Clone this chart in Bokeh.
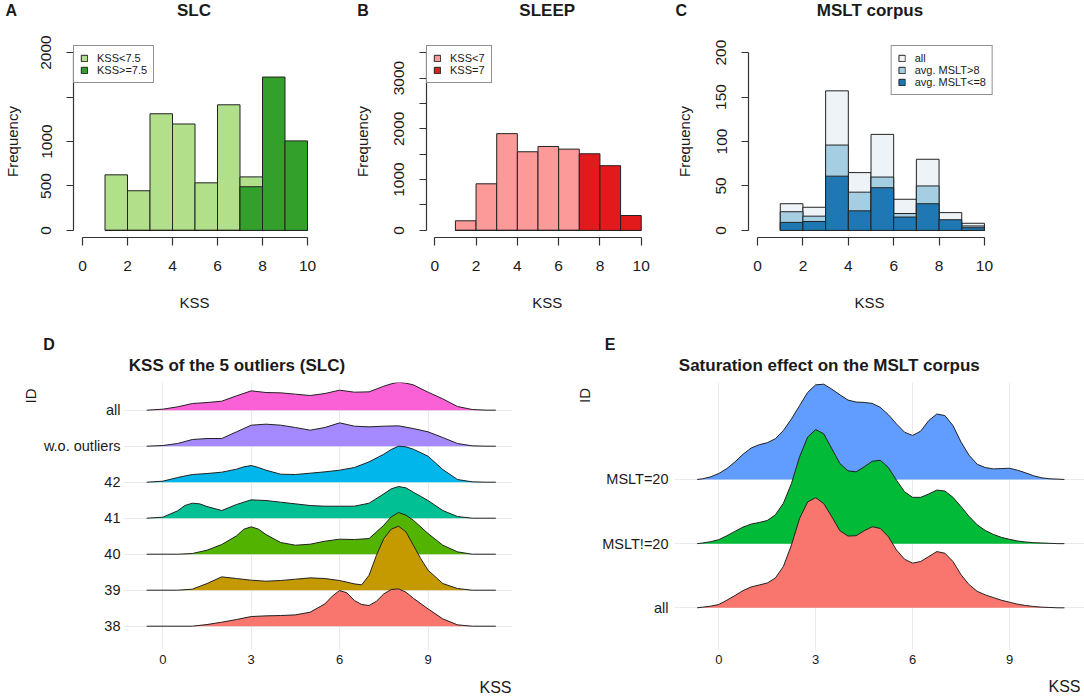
import math
from bokeh.plotting import figure
from bokeh.models import Range1d, FixedTicker, Legend, LegendItem
from bokeh.core.properties import value
from bokeh.layouts import row, column
from bokeh.embed import file_html
from bokeh.resources import INLINE

# ---------------- data : histograms (A, B, C) ----------------
bin_left = [1, 2, 3, 4, 5, 6, 7, 8, 9]            # KSS bins of width 1
slc_low = [625, 446, 1312, 1197, 535, 1413, 602, 0, 0]          # KSS<7.5
slc_high = [0, 0, 0, 0, 0, 0, 491, 1725, 1007]                  # KSS>=7.5
sleep_low = [189, 917, 1905, 1548, 1652, 1600, 0, 0, 0]         # KSS<7
sleep_high = [0, 0, 0, 0, 0, 0, 1508, 1274, 293]                # KSS=7
mslt_all = [30, 26, 157, 65, 108, 35, 80, 20, 8]                # all
mslt_gt8 = [21, 16, 96, 43, 60, 19, 50, 8, 5]                   # avg. MSLT>8
mslt_le8 = [9, 10, 61, 22, 48, 15, 30, 12, 3]                   # avg. MSLT<=8

hist_x_ticks = [0, 2, 4, 6, 8, 10]
slc_y_ticks = [0, 500, 1000, 1500, 2000]
slc_y_labels = ["0", "500", "1000", "", "2000"]
sleep_y_ticks = [0, 500, 1000, 1500, 2000, 2500, 3000, 3500]
sleep_y_labels = ["0", "", "1000", "", "2000", "", "3000", ""]
mslt_y_ticks = [0, 50, 100, 150, 200]
mslt_y_labels = ["0", "50", "100", "150", "200"]

# ---------------- data : ridgelines (D) ----------------
# heights; one row spacing = 108 units
ridge_d_scale = 108
d_ids = ["38", "39", "40", "41", "42", "w.o. outliers", "all"]
d_all_x = [-0.55, 0, 0.5, 1, 1.5, 2, 2.5, 3, 3.5, 4, 4.5, 5, 5.5, 6, 6.5, 7, 7.5, 7.75, 8, 8.25, 8.5, 9, 9.5, 10, 10.5, 11, 11.3]
d_all_h = [0, 3, 10, 20, 23, 27, 43, 58, 53, 52, 48, 44, 50, 60, 54, 55, 72, 79, 84, 81, 76, 54, 34, 11, 2, 0, 0]
d_wo_x = [-0.55, 0, 0.5, 1, 1.5, 2, 2.5, 3, 3.5, 4, 4.5, 5, 5.5, 6, 6.5, 7, 7.5, 8, 8.5, 9, 9.5, 10, 10.5, 11, 11.3]
d_wo_h = [0, 2, 8, 20, 23, 23, 43, 63, 66, 63, 56, 48, 56, 70, 60, 58, 60, 61, 53, 43, 26, 8, 1, 0, 0]
d_42_x = [-0.55, 0, 0.5, 1, 1.5, 2, 2.5, 2.75, 3, 3.25, 3.5, 4, 4.5, 5, 5.5, 6, 6.5, 7, 7.5, 7.75, 8, 8.25, 8.5, 9, 9.5, 10, 10.5, 11, 11.3]
d_42_h = [0, 3, 14, 23, 26, 30, 39, 46, 50, 44, 36, 24, 23, 27, 31, 36, 44, 61, 84, 98, 108, 106, 99, 78, 38, 8, 1, 0, 0]
d_41_x = [-0.55, 0, 0.5, 0.75, 1, 1.25, 1.5, 2, 2.5, 3, 3.5, 4, 4.5, 5, 5.5, 6, 6.5, 7, 7.5, 7.75, 8, 8.25, 8.5, 9, 9.5, 10, 10.5, 11, 11.3]
d_41_h = [0, 3, 22, 38, 45, 43, 35, 23, 41, 55, 53, 48, 43, 38, 36, 36, 36, 45, 73, 88, 95, 91, 78, 53, 23, 5, 0, 0, 0]
d_40_x = [-0.55, 0.5, 1, 1.5, 2, 2.5, 2.75, 3, 3.25, 3.5, 4, 4.5, 5, 5.5, 6, 6.5, 7, 7.5, 7.75, 8, 8.25, 8.5, 9, 9.5, 10, 10.5, 11.3]
d_40_h = [0, 0, 2, 12, 29, 55, 75, 82, 75, 59, 35, 27, 30, 39, 45, 44, 47, 87, 112, 125, 117, 102, 62, 27, 7, 0, 0]
d_39_x = [-0.55, 0.5, 1, 1.5, 2, 2.5, 3, 3.5, 4, 4.5, 5, 5.5, 6, 6.5, 6.75, 7, 7.25, 7.5, 7.75, 8, 8.25, 8.5, 8.75, 9, 9.5, 10, 10.5, 11.3]
d_39_h = [0, 0, 3, 20, 40, 35, 30, 27, 29, 33, 37, 35, 29, 19, 16, 45, 105, 155, 183, 192, 175, 135, 95, 60, 20, 5, 0, 0]
d_38_x = [-0.55, 1, 1.5, 2, 2.5, 3, 3.5, 4, 4.5, 5, 5.5, 5.75, 6, 6.25, 6.5, 6.75, 7, 7.25, 7.5, 7.75, 8, 8.25, 8.5, 9, 9.5, 10, 10.5, 11.3]
d_38_h = [0, 0, 5, 12, 20, 29, 31, 32, 34, 42, 67, 90, 107, 100, 77, 65, 62, 75, 97, 110, 112, 102, 84, 52, 22, 4, 0, 0]
d_series = [(d_38_x, d_38_h), (d_39_x, d_39_h), (d_40_x, d_40_h), (d_41_x, d_41_h),
            (d_42_x, d_42_h), (d_wo_x, d_wo_h), (d_all_x, d_all_h)]
d_colors = ["#F8766D", "#C49A00", "#53B400", "#00C094", "#00B6EB", "#A58AFF", "#FB61D7"]

# ---------------- data : ridgelines (E) ----------------
ridge_e_scale = 194
e_ids = ["all", "MSLT!=20", "MSLT=20"]
e_x = [-0.67, -0.5, -0.25, 0, 0.25, 0.5, 0.75, 1, 1.25, 1.5, 1.75, 2, 2.25, 2.5, 2.75, 3, 3.25,
       3.5, 3.75, 4, 4.25, 4.5, 4.75, 5, 5.25, 5.5, 5.75, 6, 6.25, 6.5, 6.75, 7, 7.25, 7.5, 7.75,
       8, 8.25, 8.5, 8.75, 9, 9.25, 9.5, 9.75, 10, 10.25, 10.5, 10.7]
e_mslt20 = [0, 2, 8, 18, 33, 53, 76, 95, 105, 111, 123, 148, 183, 223, 263, 286, 288,
            273, 256, 240, 234, 233, 230, 218, 196, 168, 143, 133, 146, 178, 198, 193, 163, 113, 73,
            46, 36, 32, 33, 34, 28, 20, 11, 5, 2, 1, 0]
e_not20 = [0, 2, 6, 12, 24, 37, 50, 59, 64, 70, 87, 122, 182, 262, 322, 345, 332,
           287, 242, 220, 217, 232, 249, 252, 230, 192, 157, 140, 140, 150, 162, 159, 140, 112, 82,
           57, 40, 28, 19, 13, 8, 5, 3, 2, 1, 0, 0]
e_all = [0, 2, 5, 10, 23, 37, 52, 63, 69, 75, 90, 125, 190, 270, 320, 333, 315,
         275, 233, 217, 218, 233, 245, 240, 215, 175, 147, 135, 140, 155, 170, 165, 140, 100, 70,
         50, 39, 31, 23, 17, 11, 7, 4, 2, 1, 0, 0]
e_series = [e_all, e_not20, e_mslt20]
e_colors = ["#F8766D", "#00BA38", "#619CFF"]
ridge_ticks = [0, 3, 6, 9]

# ---------------- panel letters, titles, axis titles ----------------
top_letters = ["A", "B", "C"]
top_titles = ["SLC", "SLEEP", "MSLT corpus"]
top_xlabels = ["KSS", "KSS", "KSS"]
bottom_letters = ["D", "E"]
bottom_titles = ["KSS of the 5 outliers (SLC)", "Saturation effect on the MSLT corpus"]
bottom_xlabels = ["KSS", "KSS"]
ridge_ylabel = ["ID"]

FONT = "Liberation Sans"
INK = "#1a1a1a"


def make_fig(W, H, L, R, T, B, xr, yr):
    p = figure(width=W, height=H, min_border_left=L, min_border_right=R,
               min_border_top=T, min_border_bottom=B,
               x_range=Range1d(*xr), y_range=Range1d(*yr),
               output_backend="svg", toolbar_location=None)
    p.outline_line_color = None
    p.background_fill_color = "white"
    p.border_fill_color = "white"
    return p


def strip(x0, x1, y0, y1):
    p = figure(width=x1 - x0, height=y1 - y0, min_border=0,
               x_range=Range1d(x0, x1), y_range=Range1d(y1, y0),
               x_axis_type=None, y_axis_type=None, output_backend="svg", toolbar_location=None)
    try:
        p.title = None
    except Exception:
        pass
    p.outline_line_color = None
    p.grid.visible = False
    return p


def stext(p, xs, ys, texts, size, align, style="bold", angle=0.0):
    p.text(x=xs, y=ys, text=texts, text_font=value(FONT), text_font_size=value(size),
           text_font_style=style, text_align=align, text_baseline="middle", text_color=INK,
           angle=angle)


def style_hist(p, yticks, ylabels, ybounds, ylab_standoff):
    p.xgrid.visible = False
    p.ygrid.visible = False
    xa = p.xaxis[0]
    xa.ticker = FixedTicker(ticks=hist_x_ticks)
    xa.bounds = (hist_x_ticks[0], hist_x_ticks[-1])
    ya = p.yaxis[0]
    ya.ticker = FixedTicker(ticks=yticks)
    ya.major_label_overrides = {t: l for t, l in zip(yticks, ylabels)}
    ya.bounds = ybounds
    ya.major_label_orientation = "vertical"
    for ax, tl, so in ((xa, 8, 15), (ya, 7, 15)):
        ax.axis_line_color = "#333333"
        ax.axis_line_width = 1.2
        ax.major_tick_line_color = "#333333"
        ax.major_tick_line_width = 1.2
        ax.major_tick_out = tl
        ax.major_tick_in = 0
        ax.minor_tick_line_color = None
        ax.major_label_standoff = so
        ax.major_label_text_font = FONT
        ax.major_label_text_font_size = "15.5px"
        ax.major_label_text_color = INK
    ya.axis_label = "Frequency"
    ya.axis_label_standoff = ylab_standoff
    ya.axis_label_text_font = FONT
    ya.axis_label_text_font_size = "15px"
    ya.axis_label_text_font_style = "normal"
    ya.axis_label_text_color = INK


def bars(p, counts, color):
    centers = [b + 0.5 for b in bin_left]
    return p.vbar(x=centers, width=1, bottom=0, top=counts, fill_color=color,
                  line_color="#222222", line_width=1)


def legend(p, items, loc):
    lg = Legend(items=[LegendItem(label=l, renderers=[r]) for l, r in items],
                location=loc, margin=0, padding=6, spacing=0,
                glyph_width=8, glyph_height=8, label_height=12, label_standoff=9,
                label_text_font=FONT, label_text_font_size="11px", label_text_color=INK,
                border_line_color="#222222", border_line_width=1,
                background_fill_color="white", background_fill_alpha=1)
    p.add_layout(lg)


# ---------------- top strip : letters + titles ----------------
sTop = strip(0, 1084, 0, 22)
stext(sTop, [5, 356.7, 675], [10, 10, 10], top_letters, "16px", "left")
stext(sTop, [193.5, 546.7, 869.5], [9.5, 9.5, 9.5], top_titles, "17px", "center")

# ---------------- panel A ----------------
pA = make_fig(350, 263, 70, 34, 22, 48, (-0.4, 10.4), (-80, 2080))
style_hist(pA, slc_y_ticks, slc_y_labels, (0, 2000), 18)
rA1 = bars(pA, slc_low, "#B2DF8A")
rA2 = bars(pA, slc_high, "#33A02C")
legend(pA, [("KSS<7.5", rA1), ("KSS>=7.5", rA2)], "top_left")

# ---------------- panel B ----------------
pB = make_fig(322, 263, 74, 23, 22, 48, (-0.4, 10.4), (-140, 3640))
style_hist(pB, sleep_y_ticks, sleep_y_labels, (0, 3500), 21)
rB1 = bars(pB, sleep_low, "#FB9A99")
rB2 = bars(pB, sleep_high, "#E31A1C")
legend(pB, [("KSS<7", rB1), ("KSS=7", rB2)], "top_left")

# ---------------- panel C ----------------
pC = make_fig(412, 263, 75, 91, 23, 48, (-0.4, 10.4), (-8, 208))
style_hist(pC, mslt_y_ticks, mslt_y_labels, (0, 200), 21)
rC1 = bars(pC, mslt_all, "#EDF3F7")
rC2 = bars(pC, mslt_gt8, "#A6CEE3")
rC3 = bars(pC, mslt_le8, "#1F78B4")
legend(pC, [("all", rC1), ("avg. MSLT>8", rC2), ("avg. MSLT<=8", rC3)], "top_right")

# ---------------- strip under the histograms : x-axis titles ----------------
sKss = strip(0, 1084, 285, 320)
stext(sKss, [194, 546.7, 869], [301.7, 301.7, 301.7], top_xlabels, "15px", "center", "normal")

# ---------------- middle strip : letters + titles ----------------
sMid = strip(0, 1084, 320, 376)
stext(sMid, [42.7, 604.3], [344, 344], bottom_letters, "16px", "left")
stext(sMid, [128.3, 678.3], [365, 365], bottom_titles, "17px", "left")


# ---------------- ridgeline helpers ----------------
def style_ridge(p, names, cat_standoff):
    xa = p.xaxis[0]
    ya = p.yaxis[0]
    xa.ticker = FixedTicker(ticks=ridge_ticks)
    p.xgrid.ticker = FixedTicker(ticks=ridge_ticks)
    idx = list(range(len(names)))
    ya.ticker = FixedTicker(ticks=idx)
    p.ygrid.ticker = FixedTicker(ticks=idx)
    ya.major_label_overrides = {i: n for i, n in zip(idx, names)}
    for g in (p.xgrid, p.ygrid):
        g.grid_line_color = "#EBEBEB"
        g.grid_line_width = 1
    for ax in (xa, ya):
        ax.axis_line_color = None
        ax.major_tick_line_color = None
        ax.minor_tick_line_color = None
        ax.major_tick_out = 0
        ax.major_tick_in = 0
        ax.major_label_text_font = FONT
        ax.major_label_text_color = INK
    xa.major_label_text_font_size = "13px"
    xa.major_label_standoff = 4
    ya.major_label_text_font_size = "14.5px"
    ya.major_label_standoff = cat_standoff


def ridge(p, idx, xs, hs, scale, color):
    ys = [idx + h / scale for h in hs]
    p.patch(xs, ys, fill_color=color, line_color=None)
    p.line(xs, ys, line_color="#222222", line_width=1)


# ---------------- panel D (with its "ID" strip) ----------------
sIdD = strip(0, 40, 376, 676)
stext(sIdD, [30], [391], ridge_ylabel, "15px", "center", "normal", math.pi / 2)
pD = make_fig(505, 300, 83, 33, 6, 26, (-1.334, 11.866), (-0.675, 6.769))
style_ridge(pD, d_ids, 3)
for i in range(len(d_ids) - 1, -1, -1):
    xs, hs = d_series[i]
    ridge(pD, i, xs, hs, ridge_d_scale, d_colors[i])

# ---------------- panel E (with its "ID" strip) ----------------
sIdE = strip(545, 596, 376, 676)
stext(sIdE, [584], [390.5], ridge_ylabel, "15px", "center", "normal", math.pi / 2)
pE = make_fig(488, 300, 77, 0, 4, 26, (-1.402, 11.322), (-0.665, 3.511))
style_ridge(pE, e_ids, 5)
for i in range(len(e_ids) - 1, -1, -1):
    ridge(pE, i, e_x, e_series[i], ridge_e_scale, e_colors[i])

# ---------------- bottom strip : x-axis titles of D and E ----------------
sBot = strip(0, 1084, 676, 696)
stext(sBot, [511, 1080], [686.5, 686], bottom_xlabels, "16px", "right", "normal")

layout = column(sTop, row(pA, pB, pC), sKss, sMid, row(sIdD, pD, sIdE, pE), sBot)
open("out.html", "w").write(file_html(layout, INLINE))
